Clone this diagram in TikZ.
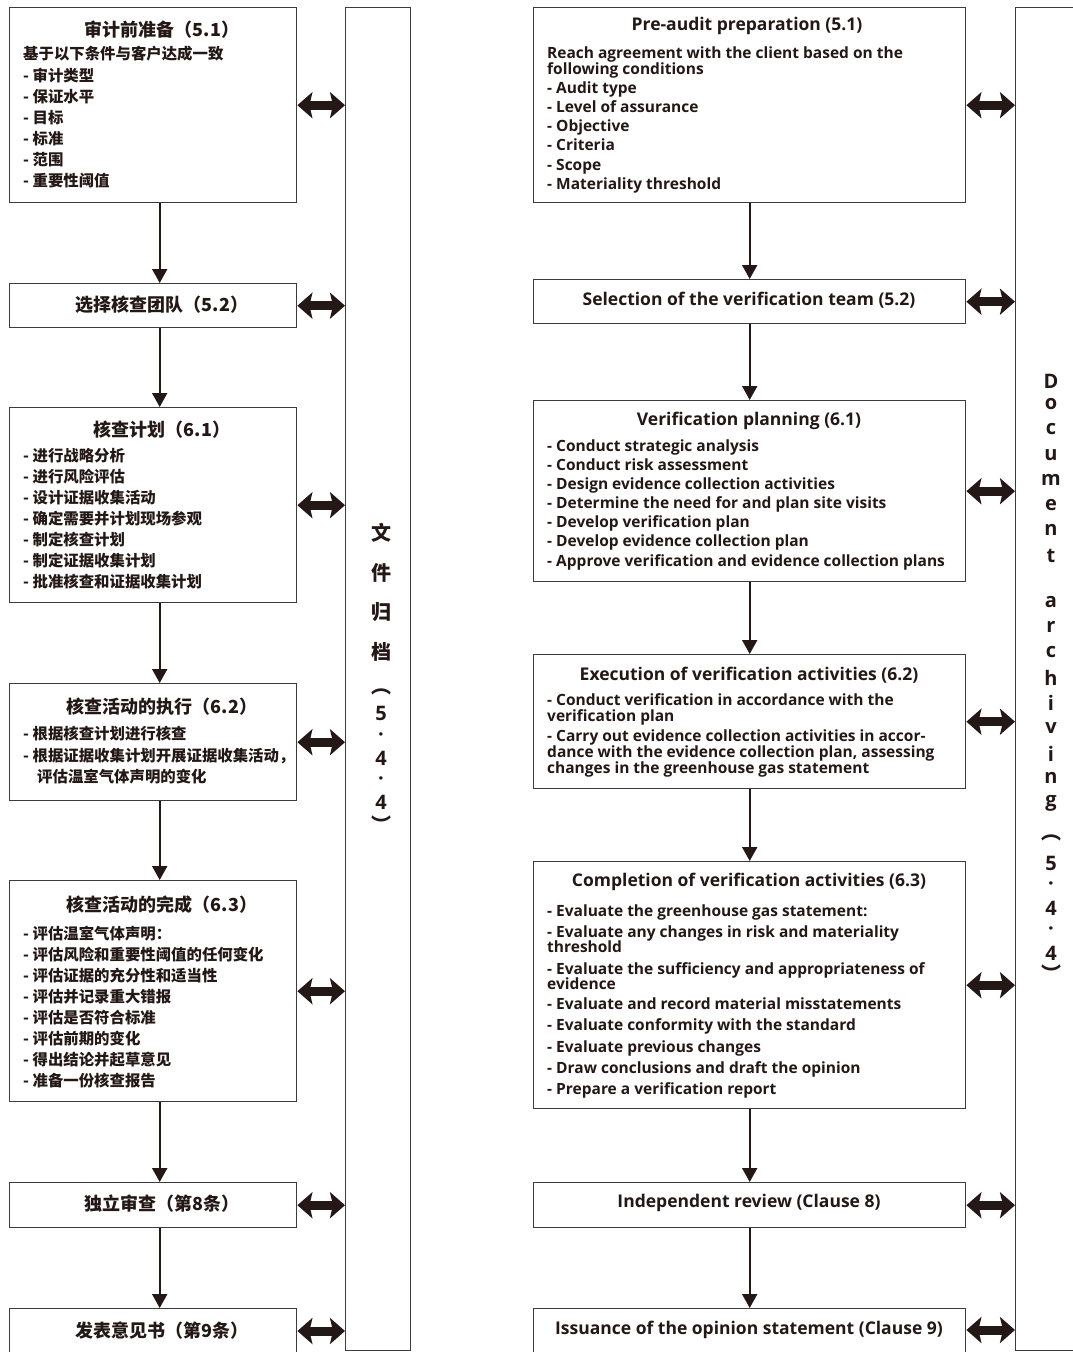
\documentclass[tikz,border=0pt]{standalone}
\usepackage{fontspec}
\usetikzlibrary{arrows.meta}
\newfontfamily\cjk{Noto Sans CJK SC}
\newfontfamily\en{Open Sans}
\definecolor{ink}{RGB}{35,24,21}
\definecolor{boxc}{RGB}{60,60,60}
\begin{document}
\begin{tikzpicture}[x=1pt,y=-1pt,
  box/.style={draw=boxc, line width=1.4pt, fill=white, inner sep=0pt, anchor=north west},
  lbox/.style={box, minimum width=287pt},
  rbox/.style={box, minimum width=432pt},
  cttl/.style={font=\cjk\bfseries\fontsize{18}{21}\selectfont, text=ink, inner sep=0pt},
  citm/.style={font=\cjk\bfseries\fontsize{15.4}{18}\selectfont, text=ink, inner sep=0pt, anchor=base west},
  ettl/.style={font=\en\bfseries\fontsize{17.5}{20}\selectfont, text=ink, inner sep=0pt},
  eitm/.style={font=\en\bfseries\fontsize{15.5}{18}\selectfont, text=ink, inner sep=0pt, anchor=base west},
  vcj/.style={font=\cjk\bfseries\fontsize{20}{22}\selectfont, text=ink, inner sep=0pt},
  ven/.style={font=\en\bfseries\fontsize{20}{22}\selectfont, text=ink, inner sep=0pt},
  flow/.style={draw=ink, line width=2pt, -{Triangle[length=14pt,width=15pt]}},
  dbl/.style={draw=ink, line width=9pt, {Stealth[length=15pt,width=26pt,inset=3pt]}-{Stealth[length=15pt,width=26pt,inset=3pt]}}
]
\useasboundingbox (0,0) rectangle (1073,1352);
\fill[white] (0,0) rectangle (1073,1352);

% archive columns
\node[box, minimum width=65pt, minimum height=1343pt] (AL) at (345,7) {};
\node[box, minimum width=90pt, minimum height=1343pt] (AR) at (1015,7) {};

% left boxes
\node[lbox, minimum height=195pt] (L1) at (9,7) {};
\node[lbox, minimum height=44pt] (L2) at (9,283) {};
\node[lbox, minimum height=195pt] (L3) at (9,407) {};
\node[lbox, minimum height=117pt] (L4) at (9,683) {};
\node[lbox, minimum height=221pt] (L5) at (9,880) {};
\node[lbox, minimum height=45pt] (L6) at (9,1182) {};
\node[lbox, minimum height=70pt] (L7) at (9,1308) {};

% right boxes
\node[rbox, minimum height=195pt] (R1) at (533,7) {};
\node[rbox, minimum height=44pt] (R2) at (533,279) {};
\node[rbox, minimum height=181pt] (R3) at (533,400) {};
\node[rbox, minimum height=134pt] (R4) at (533,654) {};
\node[rbox, minimum height=247pt] (R5) at (533,861) {};
\node[rbox, minimum height=45pt] (R6) at (533,1182) {};
\node[rbox, minimum height=70pt] (R7) at (533,1308) {};

% left texts
\node[cttl] (L1t) at (162,30) {审计前准备（5.1）};
\foreach \yy/\txt [count=\i] in {53/{基于以下条件与客户达成一致},75/{- 审计类型},96/{- 保证水平},117/{- 目标},138/{- 标准},159/{- 范围},180/{- 重要性阈值}}
  \node[citm] (L1i\i) at (23,\yy+6) {\txt};
\node[cttl] (L2t) at (162,305) {选择核查团队（5.2）};
\node[cttl] (L3t) at (162,430) {核查计划（6.1）};
\foreach \yy/\txt [count=\i] in {455/{- 进行战略分析},476/{- 进行风险评估},497/{- 设计证据收集活动},518/{- 确定需要并计划现场参观},539/{- 制定核查计划},560/{- 制定证据收集计划},581/{- 批准核查和证据收集计划}}
  \node[citm] (L3i\i) at (23,\yy+6) {\txt};
\node[cttl] (L4t) at (162,707) {核查活动的执行（6.2）};
\node[citm] (L4i1) at (23,733+6) {- 根据核查计划进行核查};
\node[citm] (L4i2) at (23,755+6) {- 根据证据收集计划开展证据收集活动，};
\node[citm] (L4i3) at (37,776+6) {评估温室气体声明的变化};
\node[cttl] (L5t) at (162,905) {核查活动的完成（6.3）};
\foreach \yy/\txt [count=\i] in {933/{- 评估温室气体声明：},954/{- 评估风险和重要性阈值的任何变化},975/{- 评估证据的充分性和适当性},996/{- 评估并记录重大错报},1017/{- 评估是否符合标准},1038/{- 评估前期的变化},1059/{- 得出结论并起草意见},1080/{- 准备一份核查报告}}
  \node[citm] (L5i\i) at (23,\yy+6) {\txt};
\node[cttl] (L6t) at (162,1204) {独立审查（第8条）};
\node[cttl] (L7t) at (162,1331) {发表意见书（第9条）};

% right texts
\node[ettl] (R1t) at (747,26) {Pre-audit preparation (5.1)};
\foreach \yy/\txt [count=\i] in {53/{Reach agreement with the client based on the},69/{following conditions},88/{- Audit type},107/{- Level of assurance},126/{- Objective},145/{- Criteria},165/{- Scope},184/{- Materiality threshold}}
  \node[eitm] (R1i\i) at (547,\yy+5) {\txt};
\node[ettl] (R2t) at (749,300) {Selection of the verification team (5.2)};
\node[ettl] (R3t) at (749,421) {Verification planning (6.1)};
\foreach \yy/\txt [count=\i] in {446/{- Conduct strategic analysis},465/{- Conduct risk assessment},484/{- Design evidence collection activities},503/{- Determine the need for and plan site visits},522/{- Develop verification plan},541/{- Develop evidence collection plan},561/{- Approve verification and evidence collection plans}}
  \node[eitm] (R3i\i) at (547,\yy+5) {\txt};
\node[ettl] (R4t) at (749,675) {Execution of verification activities (6.2)};
\foreach \yy/\txt [count=\i] in {700/{- Conduct verification in accordance with the},716/{verification plan},736/{- Carry out evidence collection activities in accor-},752/{dance with the evidence collection plan, assessing},768/{changes in the greenhouse gas statement}}
  \node[eitm] (R4i\i) at (547,\yy+5) {\txt};
\node[ettl] (R5t) at (749,882) {Completion of verification activities (6.3)};
\foreach \yy/\txt [count=\i] in {911/{- Evaluate the greenhouse gas statement:},932/{- Evaluate any changes in risk and materiality},947/{threshold},969/{- Evaluate the sufficiency and appropriateness of},984/{evidence},1004/{- Evaluate and record material misstatements},1025/{- Evaluate conformity with the standard},1047/{- Evaluate previous changes},1068/{- Draw conclusions and draft the opinion},1089/{- Prepare a verification report}}
  \node[eitm] (R5i\i) at (547,\yy+5) {\txt};
\node[ettl] (R6t) at (749,1203) {Independent review (Clause 8)};
\node[ettl] (R7t) at (749,1330) {Issuance of the opinion statement (Clause 9)};

% vertical archive labels
\foreach \yy/\c [count=\i] in {533/文,573/件,612/归,652/档,692/︵,824/︶}
  \node[vcj] (ALc\i) at (381,\yy) {\c};
\foreach \yy/\c [count=\i] in {713/5,737/·,758/4,781/·,802/4}
  \node[ven] (ALd\i) at (381,\yy) {\c};
\foreach \yy/\c [count=\i] in {381/D,404/o,429/c,455/u,480/m,505/e,530/n,556/t,602/a,627/r,652/c,678/h,703/i,728/v,754/i,778/n,803/g,863/5,886/·,908/4,931/·,953/4}
  \node[ven] (ARc\i) at (1051,\yy) {\c};
\node[vcj] (ARp1) at (1051,838) {︵};
\node[vcj] (ARp2) at (1051,973) {︶};

% flow arrows
\foreach \a/\b in {L1/L2,L2/L3,L3/L4,L4/L5,L5/L6,L6/L7}
  \draw[flow] ([xshift=6.5pt]\a.south) -- ([xshift=6.5pt]\b.north);
\foreach \a/\b in {R1/R2,R2/R3,R3/R4,R4/R5,R5/R6,R6/R7}
  \draw[flow] (\a.south) -- (\b.north);

% archive arrows
\foreach \n in {L1,L2,L3,L4,L5,L6}
  \draw[dbl] (\n.east) -- (\n.east -| AL.west);
\draw[dbl] ([yshift=-23pt]L7.north east) -- ([yshift=-23pt]L7.north east -| AL.west);
\foreach \n in {R1,R2,R3,R4,R5,R6}
  \draw[dbl] (\n.east) -- (\n.east -| AR.west);
\draw[dbl] ([yshift=-22pt]R7.north east) -- ([yshift=-22pt]R7.north east -| AR.west);
\end{tikzpicture}
\end{document}
